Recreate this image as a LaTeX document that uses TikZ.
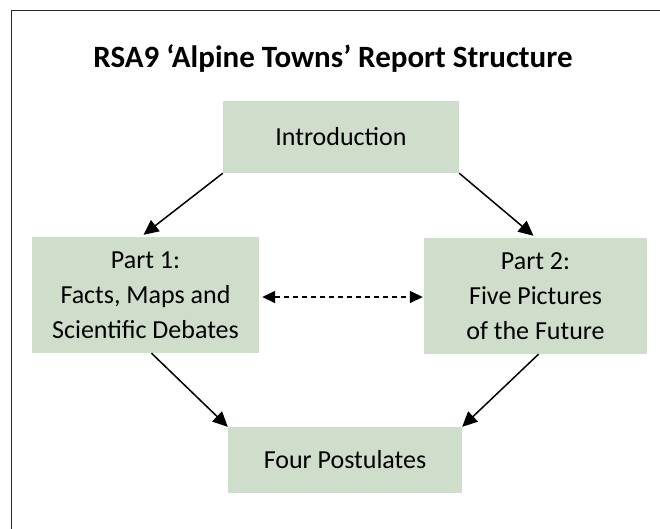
\documentclass[tikz,border=0pt]{standalone}
\usepackage{fontspec}
\setmainfont{Carlito}
\usetikzlibrary{arrows.meta}
\definecolor{boxgreen}{RGB}{207,221,203}
\definecolor{framegray}{RGB}{40,40,40}
\begin{document}
\begin{tikzpicture}[x=1pt,y=-1pt,
  box/.style={fill=boxgreen, inner sep=0pt, align=center,
    font=\fontsize{26}{35}\selectfont},
  titletext/.style={inner sep=0pt, font=\bfseries\fontsize{31}{36}\selectfont},
  arr/.style={-{Triangle[length=15pt,width=14pt]}, line width=1.5pt},
  darr/.style={{Triangle[length=13pt,width=12pt]}-{Triangle[length=13pt,width=12pt]},
    line width=1.5pt, dash pattern=on 5pt off 4pt}]
\useasboundingbox (0,0) rectangle (660,528);
\draw[line width=1pt, framegray] (11,540) -- (11,10) -- (670,10);
\node[titletext] (title) at (333,58) {RSA9 ‘Alpine Towns’ Report Structure};
\node[box, minimum width=236pt, minimum height=72pt] (intro) at (341,137) {Introduction};
\node[box, minimum width=227pt, minimum height=116pt] (p1) at (145.5,295) {Part 1:\\Facts, Maps and\\Scientific Debates};
\node[box, minimum width=223pt, minimum height=116pt] (p2) at (535.5,296) {Part 2:\\Five Pictures\\of the Future};
\node[box, minimum width=234pt, minimum height=66pt] (four) at (345,460) {Four Postulates};
\draw[arr] (intro.south west) -- ([xshift=-2pt,yshift=2pt]p1.north);
\draw[arr] (intro.south east) -- ([xshift=-2pt,yshift=2pt]p2.north);
\draw[arr] ([xshift=6pt]p1.south) -- (four.north west);
\draw[arr] ([xshift=3pt]p2.south) -- (four.north east);
\draw[darr] ([xshift=3pt,yshift=-2pt]p1.east) -- ([xshift=-1pt,yshift=-2pt]p1.east -| p2.west);
\end{tikzpicture}
\end{document}
